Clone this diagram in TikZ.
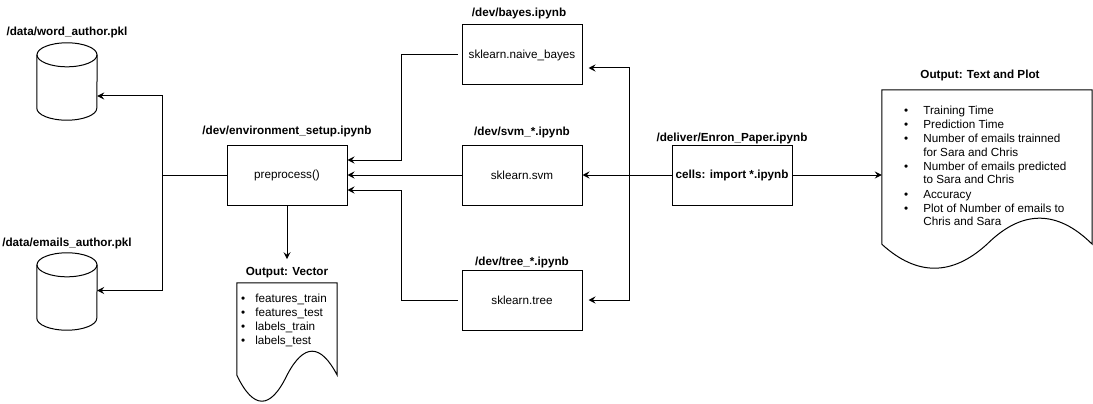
\documentclass[tikz,border=0pt]{standalone}
\usepackage{fontspec}
\setmainfont{Liberation Sans}
\usetikzlibrary{arrows.meta,positioning,calc}

\newcommand{\diagfont}{\fontsize{11.7}{14}\selectfont}

\tikzset{
  flow/.style={line width=1pt},
  arr/.style={flow,-{Stealth[length=7pt,width=7pt,inset=2.5pt]}},
  stage/.style={draw,line width=1pt,minimum width=120pt,minimum height=60pt,inner sep=0pt,font=\diagfont},
  title/.style={font=\diagfont\bfseries,inner sep=0pt},
  itemlist/.style={anchor=north west,inner sep=0pt,font=\diagfont,align=left},
  sheet/.style={minimum width=#1,inner sep=0pt},
}
% cylinder outline around a (60 x 77) node
\newcommand{\drumoutline}[1]{%
  \draw[flow] ([yshift=-12pt]#1.north) ellipse[x radius=30pt,y radius=12pt];
  \draw[flow] ([yshift=-12pt]#1.north west) -- ([yshift=12pt]#1.south west)
      arc[start angle=180,end angle=360,x radius=30pt,y radius=12pt] -- ([yshift=-12pt]#1.north east);
}

\begin{document}
\begin{tikzpicture}[x=1pt,y=-1pt]
    \useasboundingbox (0,0) rectangle (1093,404);
    % notebooks
    \node[stage] (pre) at (287,175) {preprocess()};
    \node[stage] (bayes) at (522,55) {sklearn.naive\_bayes};
    \node[stage] (svm) at (522,175) {sklearn.svm};
    \node[stage] (tree) at (522,300) {sklearn.tree};
    \node[stage,font=\diagfont\bfseries] (enron) at (732,175) {cells: import *.ipynb};
    % pickled data
    \node[sheet=60pt,minimum height=77pt] (word) at (67,81.5) {};
    \node[sheet=60pt,minimum height=77pt] (emails) at (67,291.5) {};
    \drumoutline{word}
    \drumoutline{emails}
    % outputs
    \node[sheet=100pt,minimum height=92pt] (vec) at (287,329) {};
    \node[sheet=210pt,minimum height=154pt] (out) at (987,167) {};
    % titles
    \node[title,above=7.3pt of pre] (pretitle) {/dev/environment\_setup.ipynb};
    \node[title,above=5pt of bayes,xshift=-3pt] (bayestitle) {/dev/bayes.ipynb};
    \node[title,above=6.6pt of svm] (svmtitle) {/dev/svm\_*.ipynb};
    \node[title,above=1.3pt of tree] (treetitle) {/dev/tree\_*.ipynb};
    \node[title,above=0.3pt of enron] (enrontitle) {/deliver/Enron\_Paper.ipynb};
    \node[title,above=4.6pt of word] (wordtitle) {/data/word\_author.pkl};
    \node[title,above=3.6pt of emails] (emailstitle) {/data/emails\_author.pkl};
    \node[title,above=4.6pt of vec] (vectitle) {Output: Vector};
    \node[title,above=8.3pt of out,xshift=-7pt] (outtitle) {Output: Text and Plot};
    % document outlines
    \draw[flow] (vec.south west) -- (vec.north west) -- (vec.north east) -- (vec.south east)
        .. controls +(-16.67,-32) and +(16.67,-32) .. (vec.south)
        .. controls +(-16.67,34.67) and +(16.67,34.67) .. (vec.south west);
    \draw[flow] (out.south west) -- (out.north west) -- (out.north east) -- (out.south east)
        .. controls +(-35,-34.67) and +(35,-34.67) .. (out.south)
        .. controls +(-35,32) and +(35,32) .. (out.south west);
    \node[itemlist] (veclist) at (241,292) {\begin{tabular}{@{}l@{\hspace{10pt}}l@{}}
        \textbullet & features\_train\\
        \textbullet & features\_test\\
        \textbullet & labels\_train\\
        \textbullet & labels\_test
    \end{tabular}};
    \node[itemlist] (outlist) at (904,104) {\begin{tabular}{@{}l@{\hspace{15pt}}l@{}}
        \textbullet & Training Time\\
        \textbullet & Prediction Time\\
        \textbullet & Number of emails trainned\\
                    & for Sara and Chris\\
        \textbullet & Number of emails predicted\\
                    & to Sara and Chris\\
        \textbullet & Accuracy\\
        \textbullet & Plot of Number of emails to\\
                    & Chris and Sara
    \end{tabular}};
    % connectors
    \coordinate (split) at ($(pre.west)+(-64,0)$);
    \coordinate (hub) at ($(enron.west)+(-42,0)$);
    \draw[flow] (pre.west) -- (split);
    \draw[arr] (split) |- ([yshift=-14.5pt]word.east);
    \draw[arr] (split) |- ([yshift=1pt]emails.east);
    \draw[arr,shorten <=4pt] (bayes.west) -- ++(-60,0) |- ([yshift=15pt]pre.east);
    \draw[arr] (svm.west) -- (pre.east);
    \draw[arr,shorten <=4pt] (tree.west) -- ++(-60,0) |- ([yshift=-15pt]pre.east);
    \draw[arr] (pre.south) -- ([yshift=8pt]vectitle.north);
    \draw[arr] (enron.west) -- (svm.east);
    \draw[arr,shorten >=6pt] (hub) |- ([yshift=-13pt]bayes.east);
    \draw[arr,shorten >=6pt] (hub) |- (tree.east);
    \draw[arr] (enron.east) -- (enron.east -| out.west);
\end{tikzpicture}
\end{document}
